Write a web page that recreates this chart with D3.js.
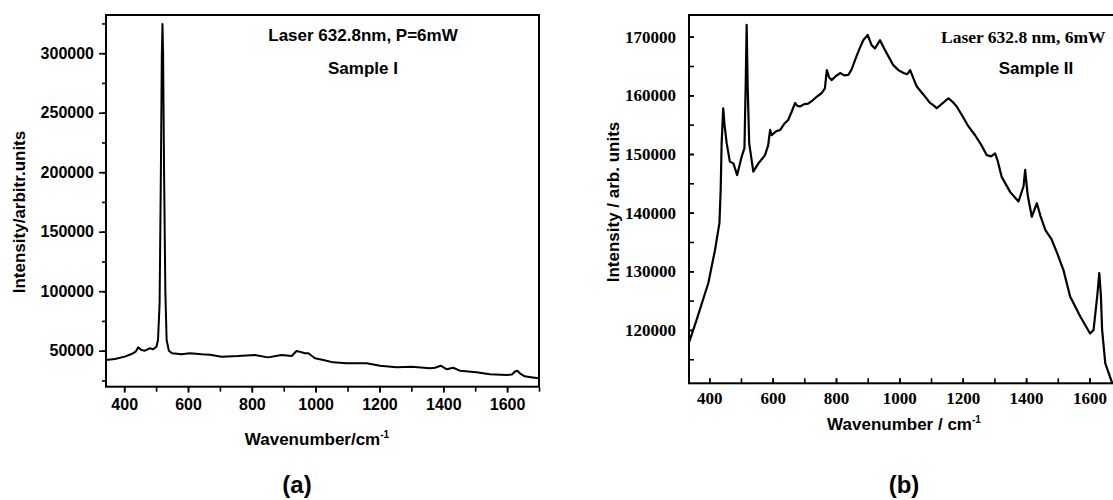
<!DOCTYPE html>
<html>
<head>
<meta charset="utf-8">
<script src="https://cdn.jsdelivr.net/npm/d3@7"></script>
<style>
  html, body { margin: 0; padding: 0; background: #fff; }
  svg { display: block; }
  .sans { font-family: "Liberation Sans", Arial, sans-serif; font-weight: bold; }
  .serif { font-family: "Liberation Serif", "Times New Roman", serif; font-weight: bold; }
</style>
</head>
<body>
<div id="chart"></div>
<script>
//~~~~~~~~~~~~~~~~~~~~~~~~~~~~~~~~~~~~
// Data
//~~~~~~~~~~~~~~~~~~~~~~~~~~~~~~~~~~~~
const waveA = [343, 371, 402, 423, 436, 444, 454, 465, 480, 491, 501, 506, 511, 515, 518, 520, 522, 525, 529, 533, 540, 550, 580, 606, 643, 669, 705, 757, 809, 851, 893, 925, 940, 950, 966, 977, 998, 1024, 1055, 1097, 1160, 1202, 1254, 1301, 1358, 1374, 1392, 1411, 1431, 1452, 1504, 1546, 1599, 1615, 1625, 1632, 1640, 1655, 1680, 1700];
const intensityA = [42200, 43000, 45000, 47200, 49200, 52800, 50600, 50000, 52000, 51200, 53400, 59000, 90000, 200000, 300000, 324500, 300000, 200000, 100000, 59000, 50000, 47800, 47000, 47800, 47000, 46600, 45000, 45500, 46400, 44400, 46400, 45500, 49700, 49200, 47800, 47800, 43600, 42200, 40200, 39400, 39400, 37400, 36000, 36600, 35200, 35700, 37400, 34400, 35700, 33200, 31800, 30200, 29600, 30000, 32500, 33200, 31000, 28500, 27500, 26800];

const waveB = [337, 360, 397, 418, 432, 436, 439, 444, 448, 455, 465, 476, 488, 502, 511, 515, 518, 521, 526, 539, 555, 576, 586, 592, 597, 603, 612, 624, 636, 649, 660, 671, 678, 686, 700, 712, 723, 740, 755, 765, 771, 778, 786, 800, 813, 826, 839, 850, 860, 873, 886, 900, 912, 923, 939, 952, 966, 980, 997, 1013, 1025, 1034, 1045, 1055, 1075, 1097, 1110, 1118, 1135, 1155, 1168, 1181, 1200, 1218, 1239, 1258, 1276, 1290, 1302, 1310, 1323, 1350, 1376, 1392, 1397, 1405, 1418, 1434, 1445, 1461, 1480, 1498, 1518, 1539, 1555, 1571, 1602, 1613, 1625, 1631, 1636, 1640, 1650, 1672];
const intensityB = [118000, 121700, 128000, 133600, 138200, 143900, 151800, 157800, 155000, 151800, 148700, 148400, 146400, 149500, 151000, 162000, 172000, 162000, 151800, 147000, 148400, 149800, 151500, 154100, 153200, 153500, 153900, 154100, 155100, 155800, 157200, 158700, 158200, 158100, 158500, 158600, 159000, 159800, 160400, 161200, 164300, 163100, 162600, 163300, 163800, 163400, 163500, 164500, 166000, 167800, 169400, 170300, 168600, 168000, 169400, 168000, 166600, 165200, 164300, 163800, 163600, 164300, 162800, 161500, 160200, 158700, 158200, 157800, 158600, 159500, 158900, 158100, 156400, 154700, 153200, 151600, 149800, 149600, 150100, 148900, 146100, 143500, 141900, 144500, 147300, 143000, 139300, 141600, 139500, 137000, 135500, 133100, 130200, 125700, 124000, 122300, 119400, 120000, 126000, 129700, 126000, 120000, 114300, 110900];

const xTicksA = [400, 600, 800, 1000, 1200, 1400, 1600];
const yTicksA = [50000, 100000, 150000, 200000, 250000, 300000];
const xTicksB = [400, 600, 800, 1000, 1200, 1400, 1600];
const yTicksB = [120000, 130000, 140000, 150000, 160000, 170000];

const dataA = waveA.map((w, i) => ({x: w, y: intensityA[i]}));
const dataB = waveB.map((w, i) => ({x: w, y: intensityB[i]}));

//~~~~~~~~~~~~~~~~~~~~~~~~~~~~~~~~~~~~
// Canvas
//~~~~~~~~~~~~~~~~~~~~~~~~~~~~~~~~~~~~
const width = 1113;
const height = 500;

const svg = d3.select("#chart")
    .append("svg")
    .attr("width", width)
    .attr("height", height);

function minorTicks(lo, hi, step) {
    return d3.range(Math.ceil(lo / step) * step, hi + 1, step);
}

//~~~~~~~~~~~~~~~~~~~~~~~~~~~~~~~~~~~~
// Panel (a)
//~~~~~~~~~~~~~~~~~~~~~~~~~~~~~~~~~~~~
function drawPanelA() {
    const x = d3.scaleLinear().domain([343, 1700]).range([106, 539]);
    const y = d3.scaleLinear().domain([19750, 332100]).range([386.7, 15]);
    const g = svg.append("g");

    // minor ticks
    g.append("g")
        .attr("transform", `translate(0,${y.range()[0]})`)
        .call(d3.axisBottom(x).tickValues(minorTicks(400, 1700, 100)).tickSize(5).tickFormat(""))
        .call(a => a.select(".domain").remove());
    g.append("g")
        .attr("transform", `translate(${x.range()[0]},0)`)
        .call(d3.axisLeft(y).tickValues(minorTicks(25000, 325000, 25000)).tickSize(4).tickFormat(""))
        .call(a => a.select(".domain").remove());

    // major ticks + labels
    const xa = g.append("g")
        .attr("transform", `translate(0,${y.range()[0]})`)
        .call(d3.axisBottom(x).tickValues(xTicksA).tickSize(6).tickPadding(6).tickFormat(d3.format("d")));
    const ya = g.append("g")
        .attr("transform", `translate(${x.range()[0]},0)`)
        .call(d3.axisLeft(y).tickValues(yTicksA).tickSize(7).tickPadding(5).tickFormat(d3.format("d")));
    [xa, ya].forEach(a => {
        a.select(".domain").remove();
        a.selectAll("text").attr("class", "sans").style("font-size", "16px").attr("fill", "#000");
    });
    g.selectAll(".tick line").attr("stroke", "#000").attr("stroke-width", 1.6);

    // frame
    g.append("rect")
        .attr("x", x.range()[0]).attr("y", y.range()[1])
        .attr("width", x.range()[1] - x.range()[0])
        .attr("height", y.range()[0] - y.range()[1])
        .attr("fill", "none").attr("stroke", "#000").attr("stroke-width", 2);

    g.append("path")
        .datum(dataA)
        .attr("fill", "none")
        .attr("stroke", "#000")
        .attr("stroke-width", 2)
        .attr("stroke-linejoin", "round")
        .attr("d", d3.line().x(d => x(d.x)).y(d => y(d.y)));

    g.append("text").attr("class", "sans").attr("x", 363).attr("y", 41)
        .attr("text-anchor", "middle").style("font-size", "17px").text("Laser 632.8nm, P=6mW");
    g.append("text").attr("class", "sans").attr("x", 363).attr("y", 74)
        .attr("text-anchor", "middle").style("font-size", "17px").text("Sample I");

    g.append("text").attr("class", "sans")
        .attr("transform", "translate(25,212) rotate(-90)")
        .attr("text-anchor", "middle").style("font-size", "17px").text("Intensity/arbitr.units");

    const xt = g.append("text").attr("class", "sans").attr("x", 317).attr("y", 445)
        .attr("text-anchor", "middle").style("font-size", "17px");
    xt.append("tspan").text("Wavenumber/cm");
    xt.append("tspan").attr("dy", -7).style("font-size", "10px").text("-1");

    g.append("text").attr("class", "sans").attr("x", 297).attr("y", 493)
        .attr("text-anchor", "middle").style("font-size", "24px").text("(a)");
}

//~~~~~~~~~~~~~~~~~~~~~~~~~~~~~~~~~~~~
// Panel (b)
//~~~~~~~~~~~~~~~~~~~~~~~~~~~~~~~~~~~~
function drawPanelB() {
    const x = d3.scaleLinear().domain([336, 1728]).range([689, 1130]);
    const y = d3.scaleLinear().domain([110900, 173700]).range([383.3, 15]);
    const g = svg.append("g");

    g.append("g")
        .attr("transform", `translate(0,${y.range()[0]})`)
        .call(d3.axisBottom(x).tickValues(minorTicks(400, 1700, 100)).tickSize(-5).tickFormat(""))
        .call(a => a.select(".domain").remove());
    g.append("g")
        .attr("transform", `translate(${x.range()[0]},0)`)
        .call(d3.axisLeft(y).tickValues(minorTicks(115000, 170000, 5000)).tickSize(-5).tickFormat(""))
        .call(a => a.select(".domain").remove());

    const xa = g.append("g")
        .attr("transform", `translate(0,${y.range()[0]})`)
        .call(d3.axisBottom(x).tickValues(xTicksB).tickSize(-5).tickPadding(9).tickFormat(d3.format("d")));
    const ya = g.append("g")
        .attr("transform", `translate(${x.range()[0]},0)`)
        .call(d3.axisLeft(y).tickValues(yTicksB).tickSize(-5).tickPadding(13).tickFormat(d3.format("d")));
    [xa, ya].forEach(a => {
        a.select(".domain").remove();
        a.selectAll("text").attr("class", "serif").style("font-size", "17px").attr("fill", "#000");
    });
    g.selectAll(".tick line").attr("stroke", "#000").attr("stroke-width", 1.6);

    g.append("rect")
        .attr("x", x.range()[0]).attr("y", y.range()[1])
        .attr("width", x.range()[1] - x.range()[0])
        .attr("height", y.range()[0] - y.range()[1])
        .attr("fill", "none").attr("stroke", "#000").attr("stroke-width", 2);

    g.append("path")
        .datum(dataB)
        .attr("fill", "none")
        .attr("stroke", "#000")
        .attr("stroke-width", 2.2)
        .attr("stroke-linejoin", "round")
        .attr("d", d3.line().x(d => x(d.x)).y(d => y(d.y)));

    g.append("text").attr("class", "serif").attr("x", 941).attr("y", 42.5)
        .style("font-size", "17.5px").text("Laser 632.8 nm, 6mW");
    g.append("text").attr("class", "sans").attr("x", 1036).attr("y", 74)
        .attr("text-anchor", "middle").style("font-size", "17px").text("Sample II");

    g.append("text").attr("class", "sans")
        .attr("transform", "translate(619,202) rotate(-90)")
        .attr("text-anchor", "middle").style("font-size", "17px").text("Intensity / arb. units");

    const xt = g.append("text").attr("class", "sans").attr("x", 904).attr("y", 430)
        .attr("text-anchor", "middle").style("font-size", "17px");
    xt.append("tspan").text("Wavenumber / cm");
    xt.append("tspan").attr("dy", -7).style("font-size", "10px").text("-1");

    g.append("text").attr("class", "sans").attr("x", 904).attr("y", 493)
        .attr("text-anchor", "middle").style("font-size", "24px").text("(b)");
}

drawPanelA();
drawPanelB();
</script>
</body>
</html>
